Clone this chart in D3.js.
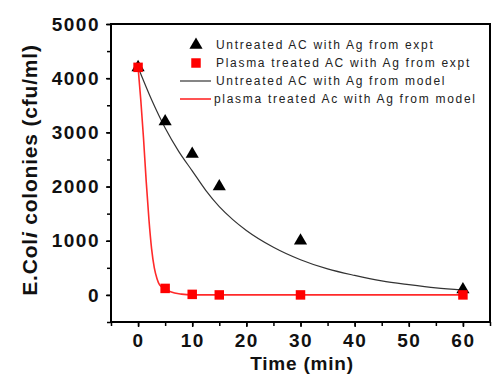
<!DOCTYPE html>
<html>
<head>
<meta charset="utf-8">
<script src="https://cdn.jsdelivr.net/npm/d3@7"></script>
<style>
  body { margin: 0; background: #fff; }
  text { font-family: "Liberation Sans", Arial, sans-serif; }
</style>
</head>
<body>
<svg id="chart" width="493" height="374"></svg>
<script>
// experiment points
const times = [0, 5, 10, 15, 30, 60];
const untreatedExpt = [4200, 3200, 2600, 2000, 1000, 100];
const plasmaExpt = [4200, 120, 10, 0, 0, 0];

// model curves
const untreatedModelT = [0, 2.5, 5, 7.5, 10, 12.5, 15, 17.5, 20, 25, 30, 35, 40, 45, 50, 55, 60];
const untreatedModel = [4200, 3600, 3080, 2650, 2290, 1930, 1630, 1390, 1190, 880, 650, 480, 360, 260, 190, 130, 90];
const plasmaModelT = [0, 0.5, 1, 1.5, 2, 2.5, 3, 3.5, 4, 5, 6, 8, 10, 15, 30, 60];
const plasmaModel = [4200, 3600, 2900, 2100, 1400, 850, 500, 300, 180, 110, 60, 15, 0, 0, 0, 0];

const xTicks = [0, 10, 20, 30, 40, 50, 60];
const yTicks = [0, 1000, 2000, 3000, 4000, 5000];

const legendLabels = [
  "Untreated AC with Ag from expt",
  "Plasma treated AC with Ag from expt",
  "Untreated AC with Ag from model",
  "plasma treated Ac with Ag from model"
];

const svg = d3.select("#chart");
const mLeft = 111, mRight = 490, mTop = 24, mBottom = 322;

const x = d3.scaleLinear().domain([-5, 65]).range([mLeft, mRight]);
const y = d3.scaleLinear().domain([-500, 5000]).range([mBottom, mTop]);

// minor ticks
const xMinor = d3.range(-5, 66, 5);
const yMinor = d3.range(-500, 5001, 500);

const xAxis = svg.append("g")
  .attr("transform", `translate(0,${mBottom})`)
  .call(d3.axisBottom(x).tickValues(xMinor).tickSize(4).tickFormat(""));
xAxis.select(".domain").remove();
xAxis.selectAll("line").attr("stroke", "#000").attr("stroke-width", 1.5);

const xLab = svg.append("g")
  .attr("transform", `translate(0,${mBottom})`)
  .call(d3.axisBottom(x).tickValues(xTicks).tickSize(5).tickPadding(7).tickFormat(d3.format("d")));
xLab.select(".domain").remove();
xLab.selectAll("line").attr("stroke", "#000").attr("stroke-width", 1.5);
xLab.selectAll("text")
  .attr("font-size", 19).attr("font-weight", "bold")
  .attr("letter-spacing", 1.5).attr("fill", "#111")
  .attr("font-family", "'Liberation Sans', Arial, sans-serif");

const yAxis = svg.append("g")
  .attr("transform", `translate(${mLeft},0)`)
  .call(d3.axisLeft(y).tickValues(yMinor).tickSize(4).tickFormat(""));
yAxis.select(".domain").remove();
yAxis.selectAll("line").attr("stroke", "#000").attr("stroke-width", 1.5);

const yLab = svg.append("g")
  .attr("transform", `translate(${mLeft},0)`)
  .call(d3.axisLeft(y).tickValues(yTicks).tickSize(5).tickPadding(6).tickFormat(d3.format("d")));
yLab.select(".domain").remove();
yLab.selectAll("line").attr("stroke", "#000").attr("stroke-width", 1.5);
yLab.selectAll("text")
  .attr("font-size", 19).attr("font-weight", "bold")
  .attr("letter-spacing", 1.5).attr("fill", "#111")
  .attr("font-family", "'Liberation Sans', Arial, sans-serif");

// frame
svg.append("rect")
  .attr("x", mLeft).attr("y", mTop)
  .attr("width", mRight - mLeft).attr("height", mBottom - mTop)
  .attr("fill", "none").attr("stroke", "#000").attr("stroke-width", 2);

// model lines
const line = d3.line().x(d => x(d[0])).y(d => y(d[1])).curve(d3.curveMonotoneX);

svg.append("path")
  .datum(untreatedModelT.map((t, i) => [t, untreatedModel[i]]))
  .attr("d", line)
  .attr("fill", "none").attr("stroke", "#333").attr("stroke-width", 1.2);

svg.append("path")
  .datum(plasmaModelT.map((t, i) => [t, plasmaModel[i]]))
  .attr("d", line)
  .attr("fill", "none").attr("stroke", "#ff2a2a").attr("stroke-width", 1.6);

// markers
const tri = d3.symbol().type(d3.symbolTriangle).size(75);
const sq = d3.symbol().type(d3.symbolSquare).size(90);

svg.append("g").selectAll("path")
  .data(times.map((t, i) => [t, untreatedExpt[i]]))
  .join("path")
  .attr("d", tri)
  .attr("transform", d => `translate(${x(d[0])},${y(d[1])})`)
  .attr("fill", "#000");

svg.append("g").selectAll("path")
  .data(times.map((t, i) => [t, plasmaExpt[i]]))
  .join("path")
  .attr("d", sq)
  .attr("transform", d => `translate(${x(d[0])},${y(d[1])})`)
  .attr("fill", "#ff0000");

// legend
const legend = svg.append("g");
const rowY = [45, 63, 81, 99];
legendLabels.forEach((lab, i) => {
  const cy = rowY[i];
  if (i === 0) {
    legend.append("path").attr("d", tri).attr("transform", `translate(196,${cy})`).attr("fill", "#000");
  } else if (i === 1) {
    legend.append("path").attr("d", sq).attr("transform", `translate(196,${cy})`).attr("fill", "#ff0000");
  } else {
    legend.append("line").attr("x1", 180).attr("x2", 211).attr("y1", cy).attr("y2", cy)
      .attr("stroke", i === 2 ? "#333" : "#ff2a2a").attr("stroke-width", i === 2 ? 1.2 : 1.6);
  }
  legend.append("text")
    .attr("x", i === 3 ? 214 : 216).attr("y", cy + 4)
    .attr("font-size", 12).attr("letter-spacing", 1.7).attr("fill", "#222")
    .text(lab);
});

// axis titles
svg.append("text")
  .attr("x", 302).attr("y", 370)
  .attr("text-anchor", "middle")
  .attr("font-size", 19).attr("font-weight", "bold").attr("fill", "#111")
  .attr("letter-spacing", 0.8)
  .text("Time  (min)");

const yt = svg.append("text")
  .attr("transform", "translate(37,170) rotate(-90)")
  .attr("text-anchor", "middle")
  .attr("font-size", 21).attr("font-weight", "bold").attr("fill", "#111")
  .attr("letter-spacing", 0.8);
yt.append("tspan").text("E.Col");
yt.append("tspan").attr("font-style", "italic").text("i");
yt.append("tspan").text("  colonies (cfu/ml)");
</script>
</body>
</html>
